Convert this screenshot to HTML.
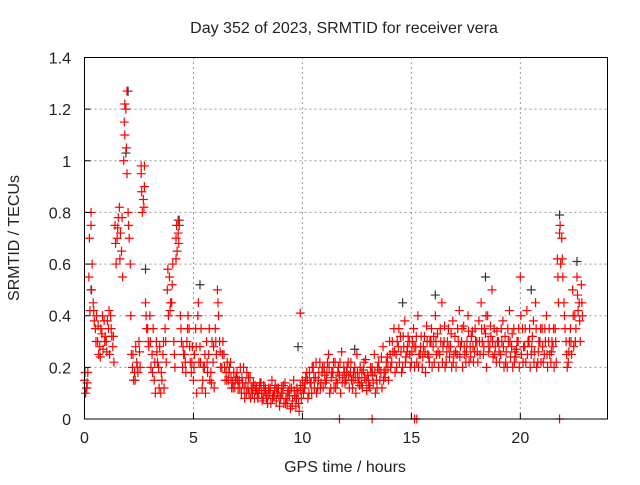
<!DOCTYPE html>
<html><head><meta charset="utf-8"><style>
body{margin:0;background:#fff}
svg text{font-family:"Liberation Sans",sans-serif;font-size:16px;fill:#222}
</style></head><body>
<svg id="chart" width="640" height="480" xmlns="http://www.w3.org/2000/svg">
<text x="344" y="33" text-anchor="middle">Day 352 of 2023, SRMTID for receiver vera</text>
<text x="345" y="472" text-anchor="middle">GPS time / hours</text>
<text x="19" y="238" text-anchor="middle" transform="rotate(-90 19 238)">SRMTID / TECUs</text>
<g id="grid"></g>
<g id="marks"></g>
<rect x="84.5" y="57.5" width="523" height="361.5" fill="none" stroke="#000" stroke-width="1"/>
<g id="axes"></g>
</svg>
<script>
const xTicks=[0,5,10,15,20];
const yTicks=[0,0.2,0.4,0.6,0.8,1,1.2,1.4];
const yTickLabels=["0","0.2","0.4","0.6","0.8","1","1.2","1.4"];
const step=0.1;
const seriesA=[0.15,0.12,0.55,0.75,0.45,0.35,0.30,0.28,0.33,0.38,
0.30,0.35,0.40,0.28,0.75,0.70,0.82,0.65,1.00,1.20,
0.80,0.60,0.20,0.18,0.22,0.30,0.95,0.85,0.45,0.35,
0.40,0.25,0.15,0.30,0.20,0.10,0.25,0.35,0.50,0.55,
0.45,0.30,0.70,0.72,0.40,0.20,0.25,0.30,0.35,0.18,
0.15,0.35,0.40,0.28,0.12,0.20,0.30,0.25,0.18,0.22,
0.35,0.50,0.30,0.20,0.25,0.18,0.15,0.22,0.14,0.12,
0.18,0.15,0.10,0.20,0.14,0.12,0.16,0.10,0.08,0.12,
0.10,0.14,0.08,0.12,0.06,0.10,0.15,0.09,0.07,0.12,
0.08,0.10,0.14,0.06,0.09,0.12,0.15,0.05,0.10,0.13,
0.15,0.12,0.18,0.10,0.14,0.20,0.16,0.12,0.22,0.18,
0.20,0.15,0.25,0.12,0.18,0.22,0.14,0.17,0.26,0.20,
0.15,0.22,0.18,0.12,0.20,0.25,0.16,0.14,0.19,0.23,
0.17,0.12,0.20,0.25,0.15,0.22,0.18,0.28,0.16,0.24,
0.30,0.22,0.35,0.25,0.28,0.32,0.20,0.38,0.26,0.30,
0.22,0.35,0.28,0.40,0.25,0.20,0.32,0.36,0.24,0.30,
0.28,0.40,0.33,0.25,0.45,0.30,0.22,0.35,0.28,0.38,
0.32,0.25,0.42,0.30,0.36,0.22,0.40,0.28,0.34,0.26,
0.30,0.38,0.45,0.25,0.33,0.40,0.28,0.50,0.35,0.22,
0.30,0.25,0.38,0.32,0.20,0.42,0.28,0.35,0.24,0.30,
0.55,0.35,0.28,0.42,0.30,0.25,0.38,0.45,0.22,0.30,
0.35,0.25,0.40,0.30,0.22,0.28,0.35,0.62,0.72,0.70,
0.45,0.30,0.22,0.35,0.50,0.40,0.55,0.45,0.52];
const seriesB=[0.10,0.18,0.42,0.60,0.38,0.40,0.25,0.35,0.27,0.32,
0.38,0.25,0.32,0.22,0.60,0.78,0.72,0.55,1.10,0.95,
0.70,0.25,0.15,0.28,0.18,0.20,0.80,0.90,0.35,0.28,
0.20,0.35,0.10,0.22,0.28,0.15,0.12,0.22,0.40,0.45,
0.60,0.20,0.65,0.75,0.30,0.25,0.18,0.40,0.22,0.28,
0.25,0.10,0.22,0.35,0.20,0.10,0.18,0.15,0.30,0.12,
0.25,0.40,0.20,0.30,0.15,0.22,0.20,0.12,0.18,0.16,
0.12,0.20,0.14,0.08,0.18,0.10,0.12,0.14,0.11,0.08,
0.14,0.07,0.11,0.08,0.12,0.06,0.09,0.13,0.10,0.05,
0.12,0.06,0.08,0.11,0.04,0.07,0.09,0.12,0.03,0.08,
0.10,0.16,0.08,0.14,0.20,0.12,0.10,0.18,0.14,0.12,
0.14,0.22,0.10,0.18,0.12,0.15,0.20,0.10,0.16,0.14,
0.20,0.12,0.15,0.18,0.10,0.14,0.20,0.12,0.16,0.11,
0.13,0.18,0.14,0.10,0.20,0.15,0.12,0.18,0.22,0.15,
0.20,0.26,0.18,0.30,0.22,0.18,0.28,0.24,0.32,0.20,
0.30,0.20,0.22,0.25,0.32,0.28,0.18,0.25,0.30,0.20,
0.22,0.25,0.20,0.30,0.28,0.20,0.30,0.24,0.20,0.25,
0.20,0.30,0.28,0.20,0.25,0.30,0.22,0.32,0.22,0.30,
0.22,0.25,0.30,0.35,0.20,0.26,0.32,0.24,0.28,0.30,
0.22,0.30,0.20,0.26,0.30,0.24,0.20,0.26,0.30,0.20,
0.25,0.28,0.22,0.30,0.20,0.32,0.26,0.20,0.30,0.22,
0.22,0.30,0.20,0.25,0.30,0.20,0.22,0.45,0.60,0.55,
0.35,0.20,0.30,0.25,0.28,0.35,0.42,0.30,0.40];
const seriesC=[0.18,0.14,0.70,0.50,0.42,0.30,0.36,0.24,0.40,0.30,
0.26,0.42,0.35,0.32,0.68,0.74,0.62,0.78,1.15,1.05,
0.75,0.40,0.25,0.15,0.20,0.26,0.88,0.82,0.40,0.30,
0.30,0.18,0.22,0.26,0.12,0.18,0.30,0.30,0.58,0.42,
0.52,0.25,0.75,0.68,0.35,0.28,0.22,0.35,0.28,0.22,
0.20,0.28,0.45,0.22,0.15,0.25,0.22,0.35,0.14,0.28,
0.30,0.45,0.26,0.25,0.20,0.15,0.18,0.16,0.12,0.15,
0.15,0.12,0.16,0.12,0.10,0.16,0.08,0.12,0.13,0.10,
0.12,0.10,0.13,0.10,0.09,0.12,0.08,0.11,0.12,0.09,
0.10,0.13,0.06,0.10,0.12,0.05,0.11,0.08,0.06,0.11,
0.12,0.14,0.15,0.18,0.10,0.16,0.22,0.15,0.12,0.20,
0.17,0.18,0.20,0.16,0.22,0.12,0.18,0.22,0.14,0.18,
0.18,0.17,0.22,0.15,0.16,0.18,0.13,0.18,0.22,0.15,
0.15,0.20,0.17,0.18,0.12,0.19,0.24,0.15,0.19,0.20,
0.25,0.30,0.26,0.20,0.35,0.26,0.32,0.22,0.28,0.25,
0.26,0.28,0.32,0.20,0.28,0.24,0.26,0.30,0.22,0.35,
0.32,0.30,0.26,0.35,0.22,0.36,0.26,0.28,0.33,0.22,
0.26,0.35,0.24,0.35,0.28,0.26,0.34,0.24,0.28,0.35,
0.26,0.30,0.35,0.28,0.40,0.30,0.36,0.30,0.25,0.34,
0.26,0.35,0.28,0.22,0.35,0.30,0.33,0.22,0.27,0.35,
0.40,0.22,0.35,0.25,0.35,0.28,0.22,0.35,0.26,0.35,
0.28,0.35,0.25,0.35,0.26,0.35,0.30,0.55,0.75,0.62,
0.40,0.25,0.26,0.30,0.40,0.30,0.48,0.38,0.45];
const extraTimes=[1.95,1.85,2.75,4.35,11.7,13.2,15.15,15.25,21.8,9.9,0.1,0.3,4.2,2.6];
const extraValues=[1.27,1.22,0.98,0.77,0,0,0,0,0,0.41,0.12,0.80,0.62,0.98];
const blackTimes=[0.3,1.9,2.0,2.8,4.3,5.3,9.8,14.6,16.1,18.4,20.5,21.8,22.6,12.4];
const blackValues=[0.5,1.03,1.27,0.58,0.77,0.52,0.28,0.45,0.48,0.55,0.5,0.79,0.61,0.27];

const X0=84.5,X1=607.5,Y0=419,Y1=57.5;
const xs=t=>X0+(t/24)*(X1-X0);
const ys=v=>Y0-(v/1.4)*(Y0-Y1);
const NS="http://www.w3.org/2000/svg";
const grid=document.getElementById('grid'),axes=document.getElementById('axes'),marks=document.getElementById('marks');
function mk(tag,attrs,parent){const e=document.createElementNS(NS,tag);for(const k in attrs)e.setAttribute(k,attrs[k]);parent.appendChild(e);return e;}
xTicks.forEach(t=>{
  const x=xs(t);
  if(t>0){const g=mk('line',{x1:x,x2:x,y1:Y0,y2:Y1,stroke:'#999','stroke-dasharray':'2,3'},grid);
  
  }
  const tk=mk('line',{x1:x,x2:x,y1:Y0,y2:Y0-6,stroke:'#000'},axes);
  
  
  const lb=mk('text',{x:x,y:443,'text-anchor':'middle'},axes);lb.textContent=String(t);
  
  
});
yTicks.forEach((v,i)=>{
  const y=ys(v);
  if(v>0&&v<1.4){const g=mk('line',{x1:X0,x2:X1,y1:y,y2:y,stroke:'#999','stroke-dasharray':'2,3'},grid);
  
  }
  const tk=mk('line',{x1:X0,x2:X0+6,y1:y,y2:y,stroke:'#000'},axes);
  
  
  const lb=mk('text',{x:71,y:y+6,'text-anchor':'end'},axes);lb.textContent=yTickLabels[i];
  
  
});
function plus(t,v,color,name){
  const x=xs(t),y=ys(v);
  const p=mk('path',{d:`M${x-4.5},${y}H${x+4.5}M${x},${y-4.5}V${y+4.5}`,stroke:color,'stroke-width':1.2,fill:'none'},marks);
  
  
}
blackTimes.forEach((t,i)=>plus(t,blackValues[i],'#333','black-point'));
seriesA.forEach((v,i)=>plus(i*step,v,'#f00','red-point'));
seriesB.forEach((v,i)=>plus(i*step+0.05,v,'#f00','red-point'));
seriesC.forEach((v,i)=>plus(i*step+0.025,v,'#f00','red-point'));
extraTimes.forEach((t,i)=>plus(t,extraValues[i],'#f00','red-point'));
</script>
</body></html>
